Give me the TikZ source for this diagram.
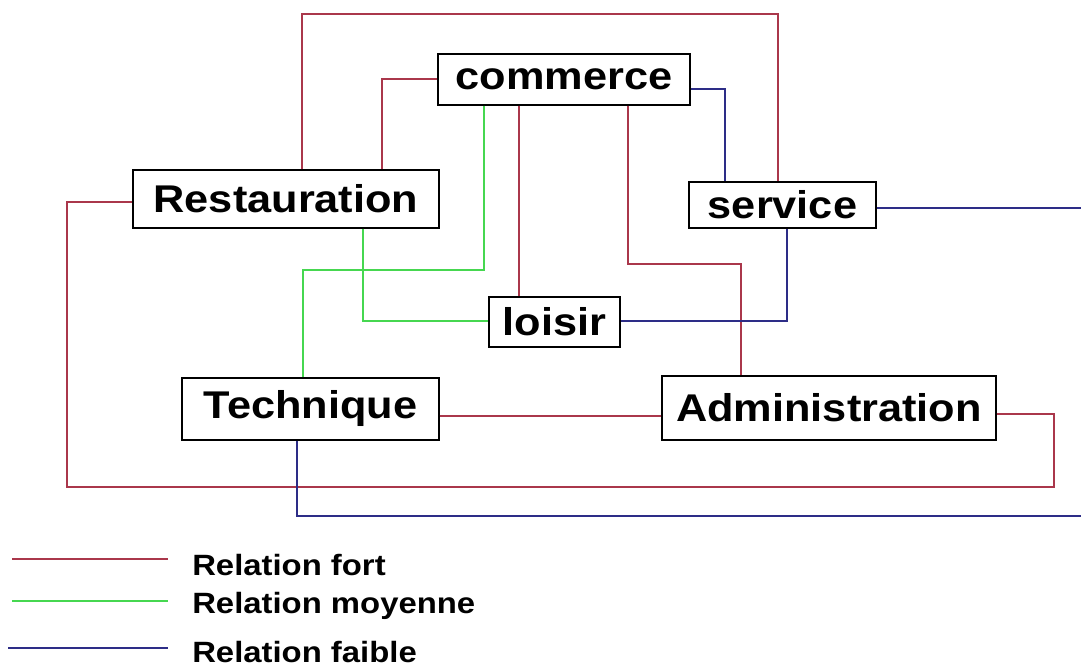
\documentclass[tikz,border=0pt]{standalone}
\usepackage{fontspec}
\newfontfamily\boxfont{Liberation Sans}[FakeStretch=1.12]
\usepackage{tikz}

\definecolor{rougefort}{RGB}{170,55,75}
\definecolor{vertmoyen}{RGB}{70,215,80}
\definecolor{bleufaible}{RGB}{45,45,135}

\begin{document}
\begin{tikzpicture}[x=0.75pt,y=-0.75pt,
  pole/.style={draw=black,line width=1.1pt,inner sep=0pt,fill=white,
    font=\boxfont\bfseries\fontsize{29}{34}\selectfont},
  fort/.style={draw=rougefort,line width=1pt},
  moyen/.style={draw=vertmoyen,line width=1pt},
  faible/.style={draw=bleufaible,line width=1pt},
  cle/.style={anchor=base west,inner sep=0pt,
    font=\boxfont\bfseries\fontsize{22}{25}\selectfont}]
\useasboundingbox (0,0) rectangle (1081,670);

% poles
\node[pole,minimum width=189pt,minimum height=38.25pt] (comm) at (564,79.5) {commerce};
\node[pole,minimum width=229.5pt,minimum height=43.5pt] (rest) at (286,199) {Restauration};
\node[pole,minimum width=140.25pt,minimum height=34.5pt] (serv) at (782.5,205) {service};
\node[pole,minimum width=98.25pt,minimum height=37.5pt] (lois) at (554.5,322) {loisir};
\node[pole,minimum width=192.75pt,minimum height=46.5pt] (tech) at (310.5,409) {Technique};
\node[pole,minimum width=250.5pt,minimum height=48pt] (admin) at (829,408) {Administration};

% coins des liaisons
\coordinate (t1) at (302,14);   \coordinate (t2) at (778,14);
\coordinate (c1) at (382,79);
\coordinate (g1) at (484,270);  \coordinate (g2) at (303,270);
\coordinate (g3) at (363,321);
\coordinate (r1) at (519,200);
\coordinate (r2) at (628,264);  \coordinate (r3) at (741,264);
\coordinate (r4) at (0,416);
\coordinate (r8) at (1054,414); \coordinate (r5) at (1054,487);
\coordinate (r6) at (67,487);   \coordinate (r7) at (67,202);
\coordinate (b1) at (725,89);
\coordinate (b2) at (1081,208);
\coordinate (b3) at (787,321);
\coordinate (b4) at (297,516);  \coordinate (b5) at (1081,516);

% relations fortes
\draw[fort] (rest.north -| t1) -- (t1) -- (t2) -- (serv.north -| t2);
\draw[fort] (comm.west |- c1) -| (rest.north -| c1);
\draw[fort] (comm.south -| r1) -- (lois.north -| r1);
\draw[fort] (comm.south -| r2) -- (r2) -- (r3) -- (admin.north -| r3);
\draw[fort] (tech.east |- r4) -- (admin.west |- r4);
\draw[fort] (admin.east |- r8) -- (r8) -- (r5) -- (r6) -- (r7) -- (rest.west |- r7);

% relations moyennes
\draw[moyen] (comm.south -| g1) -- (g1) -- (g2) -- (tech.north -| g2);
\draw[moyen] (rest.south -| g3) |- (lois.west |- g3);

% relations faibles
\draw[faible] (comm.east |- b1) -| (serv.north -| b1);
\draw[faible] (serv.east |- b2) -- (b2);
\draw[faible] (lois.east |- b3) -| (serv.south -| b3);
\draw[faible] (tech.south -| b4) -- (b4) -- (b5);

% legende
\draw[fort] (12,559) -- (168,559);
\draw[moyen] (12,601) -- (168,601);
\draw[faible] (8,648) -- (168,648);
\node[cle] (lfort) at (192,575) {Relation fort};
\node[cle] (lmoyen) at (192,613) {Relation moyenne};
\node[cle] (lfaible) at (192,662) {Relation faible};
\end{tikzpicture}
\end{document}
